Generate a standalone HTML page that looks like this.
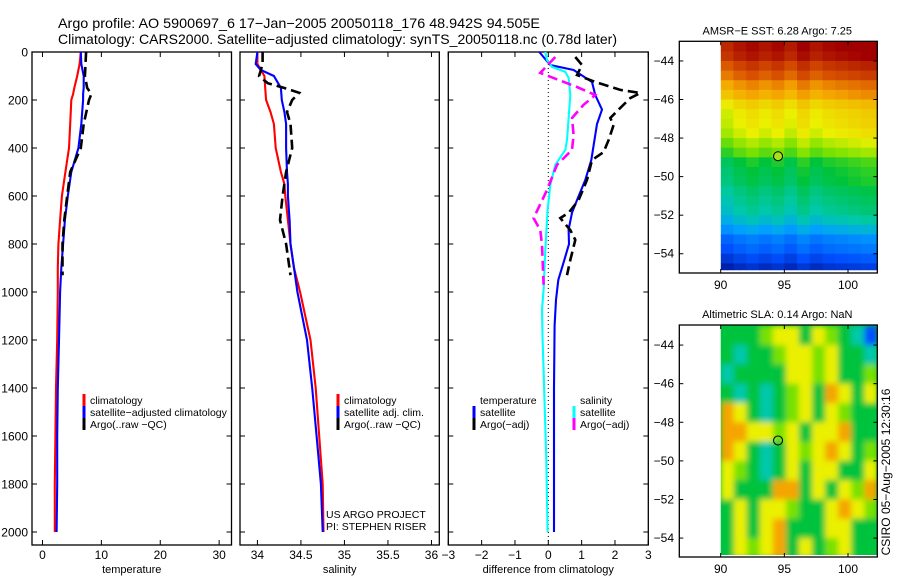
<!DOCTYPE html>
<html><head><meta charset="utf-8"><style>
body{margin:0;background:#fff;}
svg{display:block;font-family:"Liberation Sans",sans-serif;}
</style></head><body>
<svg id="root" width="900" height="580" viewBox="0 0 900 580" xmlns="http://www.w3.org/2000/svg">
<defs>
<clipPath id="c1"><rect x="720.7" y="41.3" width="156.6" height="229"/></clipPath>
<clipPath id="c2"><rect x="720.7" y="325" width="156.6" height="230"/></clipPath>
<filter id="blur" x="-5%" y="-5%" width="110%" height="110%"><feGaussianBlur stdDeviation="3"/></filter>
</defs>
<text x="58" y="28" font-size="14" textLength="482" lengthAdjust="spacingAndGlyphs">Argo profile: AO 5900697_6 17−Jan−2005 20050118_176 48.942S 94.505E</text>
<text x="58" y="44" font-size="14" textLength="559" lengthAdjust="spacingAndGlyphs">Climatology: CARS2000. Satellite−adjusted climatology: synTS_20050118.nc (0.78d later)</text>
<g id="g"></g>
</svg>
<script>
// ---------- data ----------
const tDepth = [0,50,100,150,175,200,300,400,500,600,700,800,900,1000,1200,1400,1600,1800,2000];
const tClim = [6.5,6.3,5.9,5.4,5.2,4.9,4.7,4.5,3.9,3.3,3.0,2.7,2.6,2.6,2.5,2.3,2.2,2.1,2.1];
const tSat = [6.5,6.6,7.0,7.0,6.9,6.9,6.6,6.1,4.9,4.3,3.8,3.5,3.2,3.0,2.8,2.6,2.5,2.5,2.4];
const argoDepth = [0,50,100,150,175,200,300,400,500,600,700,800,930];
const tArgo = [7.4,7.3,7.2,7.6,8.3,7.9,7.0,6.5,4.7,4.2,3.7,3.4,3.4];
const sDepth = [0,50,75,100,150,200,250,300,400,500,550,600,700,800,900,1000,1200,1400,1600,1800,2000];
const sClim = [34.0,34.0,34.04,34.08,34.09,34.1,34.15,34.19,34.21,34.27,34.31,34.32,34.35,34.38,34.42,34.49,34.61,34.67,34.71,34.75,34.76];
const sSat = [34.0,33.98,34.04,34.19,34.27,34.28,34.31,34.33,34.33,34.34,34.35,34.35,34.37,34.38,34.42,34.46,34.57,34.63,34.68,34.73,34.75];
const sArgoDepth = [0,50,100,130,150,170,200,250,300,400,500,600,700,800,930];
const sArgo = [34.06,34.06,34.02,34.12,34.31,34.48,34.40,34.34,34.38,34.40,34.33,34.29,34.26,34.33,34.38];
const dTDepth = [0,54,75,125,180,240,300,450,533,617,670,740,800,867,950,1033,1140,1400,2000];
const dTSat = [-0.27,0.06,0.76,1.31,1.41,1.61,1.46,1.29,1.11,0.86,0.71,0.61,0.62,0.48,0.3,0.23,0.19,0.17,0.17];
const dTArgoDepth = [21,54,96,125,158,171,192,233,275,304,367,417,450,533,617,670,692,742,783,867,930];
const dTArgo = [0.81,1.01,0.86,1.41,2.16,2.76,2.46,2.16,1.86,1.96,1.81,1.66,1.31,1.16,0.91,0.61,0.36,0.66,0.81,0.66,0.56];
const dSDepth = [0,33,62,83,108,180,367,408,470,554,658,825,990,1075,1200,1325,1700,2000];
const dSSat = [-0.09,-0.04,0.11,0.51,0.61,0.66,0.56,0.51,0.21,0.06,-0.02,-0.09,-0.14,-0.19,-0.17,-0.14,-0.06,-0.02];
const dSArgoDepth = [21,87,146,179,220,275,346,408,470,575,692,742,804,970];
const dSArgo = [0.21,-0.24,0.86,1.41,1.06,0.71,0.76,0.71,0.26,-0.04,-0.44,-0.24,-0.19,-0.14];
const depthTicks = [0,200,400,600,800,1000,1200,1400,1600,1800,2000];
const tTicks = [0,10,20,30];
const sTicks = [34,34.5,35,35.5,36];
const sTickLabels = ["34","34.5","35","35.5","36"];
const dTicks = [-3,-2,-1,0,1,2,3];
const lonTicks = [90,95,100];
const latTicks = [-44,-46,-48,-50,-52,-54];
const sstRows = [0.97,0.95,0.9,0.86,0.8,0.76,0.7,0.67,0.66,0.64,0.6,0.56,0.5,0.48,0.47,0.44,0.42,0.4,0.36,0.3,0.22,0.18,0.12,0.06];
const sstColOffset = [-0.03,0,0.02,0,0.02,-0.01,0.03,0,0.02,0.03,0.04,0.05];
const slaGrid = [
"GGGLYYGYLGTB","GTGGLYYLYGGT","TGGGGYYLYGGL","GTGTGLYGOYGY",
"OYGTGLYGYLGG","OOYYLYGYYOGG","OYGTGYLYOYGL","YLGTGYGYYGGY",
"YGGGOOGYGYLO","GYGYYLGGYOYL","GYGYOGGGYYGG","GYLYOGYGLYGG"];
const slaCodes = {B:0.15,T:0.4,G:0.5,L:0.58,Y:0.66,O:0.78};
// ---------- drawing ----------
const NS="http://www.w3.org/2000/svg";
const G=document.getElementById('g');
function el(tag,attrs,parent){const e=document.createElementNS(NS,tag);for(const k in attrs)e.setAttribute(k,attrs[k]);(parent||G).appendChild(e);return e;}
function txt(x,y,s,size,anchor,parent){const t=el('text',{x:x,y:y,'font-size':size,'text-anchor':anchor||'start'},parent);t.textContent=s;return t;}
const Y0=52,YB=545,yD=d=>Y0+d*0.24;
function panel(x0,x1,vmin,vmax,name){return {x0,x1,x:v=>x0+(v-vmin)/(vmax-vmin)*(x1-x0),name};}
const P1=panel(32,231.5,-1.78,32.1,'temperature');
const P2=panel(240,439.3,33.80,36.09,'salinity');
const P3=panel(448.3,648.3,-3,3,'difference');
function frame(P,ticks,labels,xlabel){
  const g=el('g',{});
  
  
  el('rect',{x:P.x0,y:Y0,width:P.x1-P.x0,height:YB-Y0,fill:'none',stroke:'#000','stroke-width':1.3},g);
  ticks.forEach((v,i)=>{const x=P.x(v);
    el('line',{x1:x,x2:x,y1:YB,y2:YB-5,stroke:'#000'},g);el('line',{x1:x,x2:x,y1:Y0,y2:Y0+5,stroke:'#000'},g);
    const t=txt(x,559,labels[i],12,'middle',g);
    
    });
  depthTicks.forEach(d=>{const y=yD(d);
    el('line',{x1:P.x0,x2:P.x0+5,y1:y,y2:y,stroke:'#000'},g);el('line',{x1:P.x1,x2:P.x1-5,y1:y,y2:y,stroke:'#000'},g);});
  const xl=txt((P.x0+P.x1)/2,573,xlabel,11,'middle',g);
  
  
}
function line(P,vals,depths,color,dashed,name){
  const pts=vals.map((v,i)=>P.x(v).toFixed(1)+','+yD(depths[i]).toFixed(1)).join(' ');
  const p=el('polyline',{points:pts,fill:'none',stroke:color,'stroke-width':dashed?2.6:2.1,'stroke-dasharray':dashed?'10,5':'none'});
  
  
}
frame(P1,tTicks,tTicks.map(String),'temperature');
frame(P2,sTicks,sTickLabels,'salinity');
frame(P3,dTicks,dTicks.map(v=>v<0?'−'+(-v):String(v)),'difference from climatology');
depthTicks.forEach(d=>{const t=txt(28,yD(d)+4.5,String(d),12,'end');
  
  });
el('line',{x1:P3.x(0),x2:P3.x(0),y1:Y0,y2:YB,stroke:'#000','stroke-dasharray':'1,3'});
line(P1,tClim,tDepth,'#f00',false,'temp-climatology-line');
line(P1,tSat,tDepth,'#00f',false,'temp-satellite-line');
line(P1,tArgo,argoDepth,'#000',true,'temp-argo-line');
line(P2,sClim,sDepth,'#f00',false,'sal-climatology-line');
line(P2,sSat,sDepth,'#00f',false,'sal-satellite-line');
line(P2,sArgo,sArgoDepth,'#000',true,'sal-argo-line');
line(P3,dTSat,dTDepth,'#00f',false,'diff-temp-satellite-line');
line(P3,dTArgo,dTArgoDepth,'#000',true,'diff-temp-argo-line');
line(P3,dSSat,dSDepth,'#0ff',false,'diff-sal-satellite-line');
line(P3,dSArgo,dSArgoDepth,'#f0f',true,'diff-sal-argo-line');
// legends
function legend(x,y,items,name){
  const g=el('g',{});
  
  
  items.forEach((it,i)=>{const yy=y+i*12;
    if(it[1])el('rect',{x:x-1.5,y:yy-6,width:3,height:12,fill:it[1]},g);
    txt(x+6,yy+4,it[0],10.5,'start',g);});
}
legend(84,400,[['climatology','#f00'],['satellite−adjusted climatology','#00f'],['Argo(..raw −QC)','#000']],'temp-legend');
legend(338,400,[['climatology','#f00'],['satellite adj. clim.','#00f'],['Argo(..raw −QC)','#000']],'sal-legend');
legend(474,400,[['temperature',null],['satellite','#00f'],['Argo(−adj)','#000']],'diff-temp-legend');
legend(574,400,[['salinity',null],['satellite','#0ff'],['Argo(−adj)','#f0f']],'diff-sal-legend');
const c1=txt(326,518,'US ARGO PROJECT',10.5);
const c2=txt(326,530,'PI: STEPHEN RISER',10.5);
// ---------- maps ----------
const stops=[[0,[0,20,150]],[0.15,[0,80,255]],[0.3,[0,160,255]],[0.4,[0,200,170]],[0.5,[0,195,60]],[0.58,[120,225,0]],[0.66,[235,240,0]],[0.78,[245,165,0]],[0.88,[215,80,0]],[1,[160,0,0]]];
function cmap(v){v=Math.max(0,Math.min(1,v));for(let i=1;i<stops.length;i++){if(v<=stops[i][0]){const a=stops[i-1],b=stops[i],f=(v-a[0])/(b[0]-a[0]);return 'rgb('+a[1].map((c,k)=>Math.round(c+(b[1][k]-c)*f)).join(',')+')';}}return 'rgb(160,0,0)';}
function mapAxes(top,bottom,latTop,latBot,title,name){
  const X0=679.3,X1=877.3,lonL=86.75,lonR=102.3;
  const lx=v=>X0+(v-lonL)/(lonR-lonL)*(X1-X0), ly=v=>top+(latTop-v)/(latTop-latBot)*(bottom-top);
  const g=el('g',{});
  
  
  return {lx,ly,g,X0,X1,draw(){
    el('rect',{x:X0,y:top,width:X1-X0,height:bottom-top,fill:'none',stroke:'#000','stroke-width':1.3},g);
    lonTicks.forEach(v=>{const x=lx(v);el('line',{x1:x,x2:x,y1:top,y2:top+4,stroke:'#000'},g);el('line',{x1:x,x2:x,y1:bottom,y2:bottom-4,stroke:'#000'},g);txt(x,bottom+16,String(v),12,'middle',g);});
    latTicks.forEach(v=>{const y=ly(v);el('line',{x1:X0,x2:X0+4,y1:y,y2:y,stroke:'#000'},g);el('line',{x1:X1,x2:X1-4,y1:y,y2:y,stroke:'#000'},g);txt(674,y+4,'−'+(-v),12,'end',g);});
    const t=txt((X0+X1)/2-1,top-7,title,11,'middle',g);
    
    
  }};
}
// SST map
const M1=mapAxes(41.3,273,-42.98,-55.0,'AMSR−E SST: 6.28 Argo: 7.25','sst-map');
const sstG=el('g',{'clip-path':'url(#c1)'},M1.g);
sstRows.forEach((rv,r)=>{for(let c=0;c<25;c++){const lon=90+c*0.5,lat=-43-r*0.5;
  const cell=el('rect',{x:M1.lx(lon).toFixed(2),y:M1.ly(lat).toFixed(2),width:6.9,height:10.2,fill:cmap(rv+sstColOffset[Math.min(11,Math.floor(c/2))])},sstG);
  
  }});
M1.draw();
const d1=el('circle',{cx:M1.lx(94.505),cy:M1.ly(-48.942),r:4.5,fill:'#a8e020',stroke:'#000','stroke-width':1},M1.g);

// SLA map
const M2=mapAxes(325,557,-42.96,-54.98,'Altimetric SLA: 0.14 Argo: NaN','sla-map');
const slaClip=el('g',{'clip-path':'url(#c2)'},M2.g);
el('rect',{x:720.7,y:325,width:157,height:230,fill:cmap(0.5)},slaClip);
const slaG=el('g',{filter:'url(#blur)'},slaClip);
slaGrid.forEach((row,r)=>{row.split('').forEach((ch,c)=>{const lon=90+c*1.025,lat=-43-r;
  const cell=el('rect',{x:M2.lx(lon).toFixed(2),y:M2.ly(lat).toFixed(2),width:13.3,height:19.8,fill:cmap(slaCodes[ch])},slaG);
  
  });});
M2.draw();
const d2=el('circle',{cx:M2.lx(94.505),cy:M2.ly(-48.942),r:4.5,fill:'none',stroke:'#000','stroke-width':1},M2.g);

const cs=txt(0,0,'CSIRO 05−Aug−2005 12:30:16',12,'middle');
cs.setAttribute('transform','translate(890,472) rotate(-90)');


</script>
</body></html>
